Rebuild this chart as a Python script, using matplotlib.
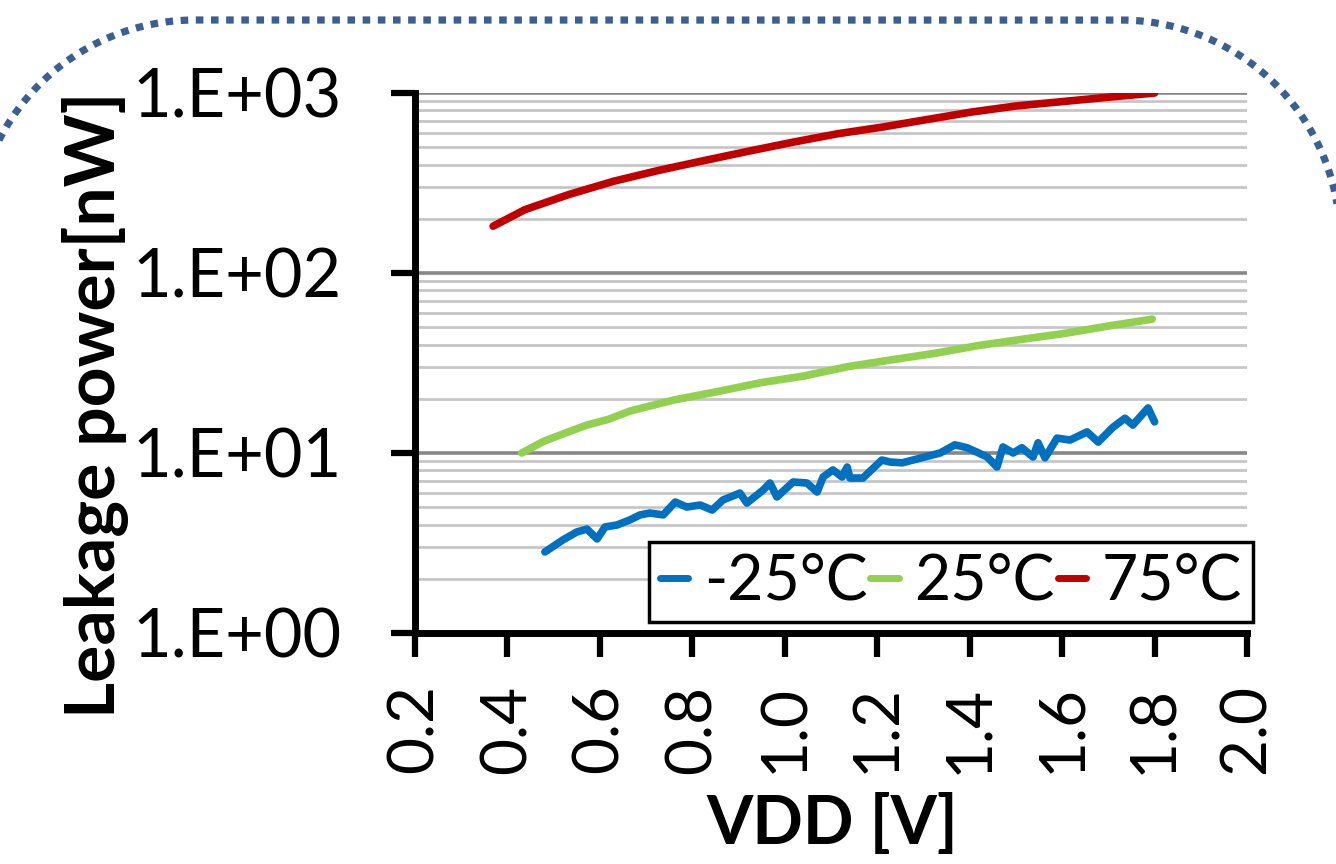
import matplotlib
matplotlib.use("Agg")
import numpy as np
import matplotlib.pyplot as plt

plt.rcParams['font.family'] = ['Lato', 'DejaVu Sans']

# ---------------- data ----------------
vdd_m25 = [0.481, 0.520, 0.550, 0.572, 0.594, 0.611, 0.637, 0.665, 0.687, 0.708,
           0.737, 0.763, 0.788, 0.817, 0.843, 0.866, 0.903, 0.918, 0.953, 0.968,
           0.983, 1.018, 1.048, 1.070, 1.083, 1.104, 1.124, 1.135, 1.141, 1.169,
           1.210, 1.228, 1.254, 1.286, 1.336, 1.368, 1.394, 1.416, 1.438, 1.459,
           1.472, 1.494, 1.513, 1.537, 1.548, 1.563, 1.589, 1.617, 1.654, 1.678,
           1.710, 1.736, 1.753, 1.786, 1.800]
p_m25 = [2.82, 3.29, 3.64, 3.78, 3.33, 3.88, 3.98, 4.25, 4.53, 4.64,
         4.53, 5.34, 5.01, 5.14, 4.82, 5.48, 5.99, 5.27, 6.22, 6.81,
         5.70, 6.90, 6.81, 6.07, 7.36, 8.05, 7.36, 8.36, 7.26, 7.26,
         9.14, 8.91, 8.82, 9.26, 10.0, 11.1, 10.7, 10.1, 9.5, 8.36,
         10.8, 10.0, 10.7, 9.5, 11.4, 9.4, 12.1, 11.8, 13.1, 11.5,
         13.9, 15.6, 14.3, 17.8, 14.9]

vdd_25 = [0.431, 0.478, 0.525, 0.572, 0.619, 0.665, 0.760, 0.853, 0.949, 1.042,
          1.137, 1.230, 1.325, 1.418, 1.513, 1.606, 1.701, 1.795]
p_25 = [10.0, 11.6, 12.9, 14.3, 15.4, 17.1, 19.7, 21.9, 24.6, 26.8,
        30.2, 32.9, 35.8, 39.5, 42.8, 46.2, 50.8, 55.4]

vdd_75 = [0.369, 0.438, 0.533, 0.631, 0.728, 0.823, 0.920, 1.016, 1.113, 1.210,
          1.306, 1.403, 1.500, 1.595, 1.693, 1.800]
p_75 = [182, 225, 273, 324, 372, 420, 474, 532, 593, 646,
        711, 783, 847, 893, 944, 1000]

series_labels = ['-25°C', '25°C', '75°C']
series_colors = ['#0070C0', '#92D050', '#C00000']

x_ticks = [0.2, 0.4, 0.6, 0.8, 1.0, 1.2, 1.4, 1.6, 1.8, 2.0]
x_ticklabels = ['0.2', '0.4', '0.6', '0.8', '1.0', '1.2', '1.4', '1.6', '1.8', '2.0']
y_ticks = [1, 10, 100, 1000]
y_ticklabels = ['1.E+00', '1.E+01', '1.E+02', '1.E+03']

# ---------------- figure ----------------
W, H = 1336, 864
fig = plt.figure(figsize=(W / 100, H / 100), dpi=100)
fig.patch.set_facecolor('white')

# dotted rounded border (pixel coordinates, y up)
bg = fig.add_axes([0, 0, 1, 1], zorder=0)
bg.set_xlim(0, W)
bg.set_ylim(0, H)
bg.axis('off')
R = 220
x_left, x_right, y_top = -25, 1340, H - 20
cl = (x_left + R, y_top - R)
cr = (x_right - R, y_top - R)
a1 = np.linspace(np.pi, np.pi / 2, 120)
a2 = np.linspace(np.pi / 2, 0, 120)
bx = np.concatenate([[x_left], cl[0] + R * np.cos(a1), cr[0] + R * np.cos(a2), [x_right]])
by = np.concatenate([[-200], cl[1] + R * np.sin(a1), cr[1] + R * np.sin(a2), [-200]])
bg.plot(bx, by, color='#3C5F91', lw=5.2, linestyle=(0, (1.05, 1.05)),
        dash_capstyle='butt')

ax = fig.add_axes([415 / W, 1 - 633 / H, 832 / W, 540 / H], zorder=1)
ax.patch.set_alpha(0)

for xs, ys, lab, col in zip([vdd_m25, vdd_25, vdd_75], [p_m25, p_25, p_75],
                            series_labels, series_colors):
    ax.plot(xs, ys, color=col, lw=5.5, label=lab, solid_capstyle='round',
            solid_joinstyle='round', zorder=3)

ax.set_yscale('log')
ax.set_ylim(1, 1000)
ax.set_xlim(0.2, 2.0)

ax.set_xticks(x_ticks)
ax.set_xticklabels(x_ticklabels, rotation=90, fontsize=46)
ax.set_yticks(y_ticks)
ax.set_yticklabels(y_ticklabels, fontsize=48)
ax.yaxis.set_minor_formatter(plt.NullFormatter())

ax.tick_params(axis='both', which='major', direction='out', length=17, width=4.5,
               color='black')
ax.tick_params(axis='y', which='major', pad=36)
ax.tick_params(axis='x', which='major', pad=20)
ax.tick_params(axis='y', which='minor', length=0)

ax.grid(True, which='major', axis='y', color='#878787', lw=2.6, zorder=1)
ax.grid(True, which='minor', axis='y', color='#C6C6C6', lw=2.0, zorder=1)
ax.set_axisbelow(True)

for s in ['top', 'right']:
    ax.spines[s].set_visible(False)
for s in ['left', 'bottom']:
    ax.spines[s].set_linewidth(5)
    ax.spines[s].set_color('black')

fig.text(832 / W, 1 - 825 / H, 'VDD [V]', ha='center', va='center',
         fontsize=48, fontweight='bold')
fig.text(96 / W, 1 - 405 / H, 'Leakage power[nW]', ha='center', va='center',
         rotation=90, fontsize=50, fontweight='bold')

leg = ax.legend(loc='lower right', bbox_to_anchor=(1253 / W, 1 - 622 / H),
                bbox_transform=fig.transFigure, ncol=3, fontsize=45,
                frameon=True, fancybox=False, framealpha=1, edgecolor='black',
                borderaxespad=0, borderpad=0.18, handlelength=0.45,
                handletextpad=0.25, columnspacing=0.05, labelspacing=0.2)
leg.get_frame().set_linewidth(2.5)
for h in leg.get_lines():
    h.set_linewidth(5)
    h.set_solid_capstyle('round')
leg.set_zorder(5)

fig.savefig('out.png', dpi=100, facecolor='white')
